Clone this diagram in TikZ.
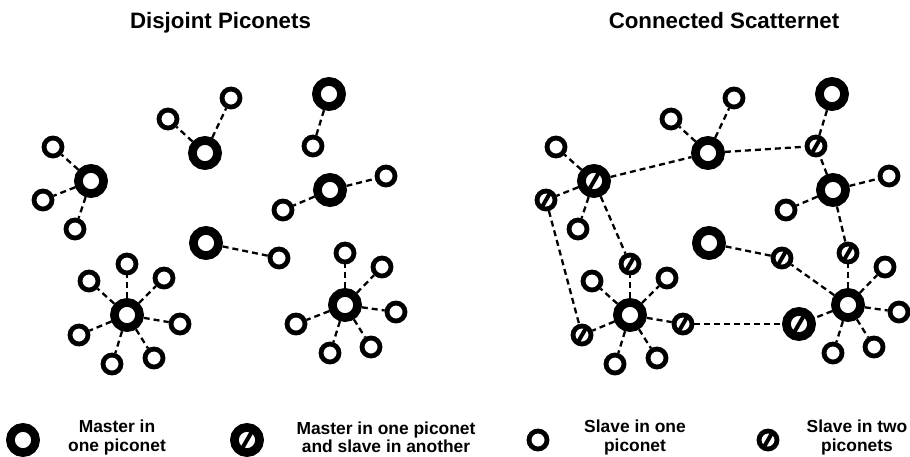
\documentclass[tikz,border=0pt]{standalone}
\usepackage{fontspec}
\setmainfont{Liberation Sans}
\usepackage{tikz}
\usetikzlibrary{calc}

\tikzset{
	master/.style={circle,draw,line width=8.7pt,inner sep=0pt,minimum size=25.2pt},
	slave/.style={circle,draw,line width=4.8pt,inner sep=0pt,minimum size=18pt},
	cross/.style={path picture={\draw[line width=4pt] (path picture bounding box.center) ++(120:14) -- ++(-60:28);}},
	link/.style={line width=2.3pt,dash pattern=on 6pt off 4pt},
	title/.style={font=\fontsize{22.3}{26}\selectfont\bfseries,inner sep=0pt,anchor=base},
	legtext/.style={font=\fontsize{17.4}{18.5}\selectfont\bfseries,align=center,inner sep=0pt}
}

\begin{document}
\begin{tikzpicture}[x=1pt,y=-1pt]
	\useasboundingbox (0,0) rectangle (910,456);
	\node[title] (tl) at (220.5,28.3) {Disjoint Piconets};
	\node[title] (tr) at (724,28.3) {Connected Scatternet};
	% disjoint piconets
	\node[master] (ma) at (91,181) {};
	\node[slave] (a1) at (53,147) {};
	\node[slave] (a2) at (43,200) {};
	\node[slave] (a3) at (75,229) {};
	\node[master] (mb) at (205,153) {};
	\node[slave] (b1) at (168,119) {};
	\node[slave] (b2) at (231,98) {};
	\node[master] (mc) at (329,94) {};
	\node[slave] (c1) at (313,146) {};
	\node[master] (md) at (330,190) {};
	\node[slave] (d1) at (386,176) {};
	\node[slave] (d2) at (283,210) {};
	\node[master] (me) at (206,243) {};
	\node[slave] (e1) at (279,258) {};
	\node[master] (mf) at (127,315) {};
	\node[slave] (f1) at (127,264) {};
	\node[slave] (f2) at (89,281) {};
	\node[slave] (f3) at (164,278) {};
	\node[slave] (f4) at (180,324) {};
	\node[slave] (f5) at (79,335) {};
	\node[slave] (f6) at (112,364) {};
	\node[slave] (f7) at (154,358) {};
	\node[master] (mg) at (345,305) {};
	\node[slave] (g1) at (345,253) {};
	\node[slave] (g2) at (382,267) {};
	\node[slave] (g3) at (396,312) {};
	\node[slave] (g4) at (296,324) {};
	\node[slave] (g5) at (330,353) {};
	\node[slave] (g6) at (371,347) {};
	\foreach \s in {a1,a2,a3} \draw[link] (ma) -- (\s);
	\foreach \s in {b1,b2} \draw[link] (mb) -- (\s);
	\draw[link] (mc) -- (c1);
	\foreach \s in {d1,d2} \draw[link] (md) -- (\s);
	\draw[link] (me) -- (e1);
	\foreach \s in {f1,f2,f3,f4,f5,f6,f7} \draw[link] (mf) -- (\s);
	\foreach \s in {g1,g2,g3,g4,g5,g6} \draw[link] (mg) -- (\s);
	% connected scatternet
	\begin{scope}[xshift=503pt]
	\node[master,cross] (rma) at (91,181) {};
	\node[slave] (ra1) at (53,147) {};
	\node[slave,cross] (ra2) at (43,200) {};
	\node[slave] (ra3) at (75,229) {};
	\node[master] (rmb) at (205,153) {};
	\node[slave] (rb1) at (168,119) {};
	\node[slave] (rb2) at (231,98) {};
	\node[master] (rmc) at (329,94) {};
	\node[slave,cross] (rc1) at (313,146) {};
	\node[master] (rmd) at (330,190) {};
	\node[slave] (rd1) at (386,176) {};
	\node[slave] (rd2) at (283,210) {};
	\node[master] (rme) at (206,243) {};
	\node[slave,cross] (re1) at (279,258) {};
	\node[master] (rmf) at (127,315) {};
	\node[slave,cross] (rf1) at (127,264) {};
	\node[slave] (rf2) at (89,281) {};
	\node[slave] (rf3) at (164,278) {};
	\node[slave,cross] (rf4) at (180,324) {};
	\node[slave,cross] (rf5) at (79,335) {};
	\node[slave] (rf6) at (112,364) {};
	\node[slave] (rf7) at (154,358) {};
	\node[master] (rmg) at (345,305) {};
	\node[slave,cross] (rg1) at (345,253) {};
	\node[slave] (rg2) at (382,267) {};
	\node[slave] (rg3) at (396,312) {};
	\node[master,cross] (rg4) at (296,324) {};
	\node[slave] (rg5) at (330,353) {};
	\node[slave] (rg6) at (371,347) {};
	\end{scope}
	\foreach \s in {ra1,ra2,ra3,rmb,rf1} \draw[link] (rma) -- (\s);
	\foreach \s in {rb1,rb2,rc1} \draw[link] (rmb) -- (\s);
	\draw[link] (rmc) -- (rc1);
	\foreach \s in {rc1,rd1,rd2,rg1} \draw[link] (rmd) -- (\s);
	\draw[link] (rme) -- (re1);
	\foreach \s in {rf1,rf2,rf3,rf4,rf5,rf6,rf7} \draw[link] (rmf) -- (\s);
	\foreach \s in {rg1,rg2,rg3,rg4,rg5,rg6,re1} \draw[link] (rmg) -- (\s);
	\draw[link] (ra2) -- (rf5);
	\draw[link] (rf4) -- (rg4);
	% legend
	\node[master] (lm) at (23,440) {};
	\node[legtext] (lmt) at (117,437.5) {Master in\\one piconet};
	\node[master,cross] (lms) at (247,440) {};
	\node[legtext] (lmst) at (386,437.5) {Master in one piconet\\and slave in another};
	\node[slave] (ls) at (538,440) {};
	\node[legtext] (lst) at (635,437.5) {Slave in one\\piconet};
	\node[slave,cross] (lb) at (768,440) {};
	\node[legtext] (lbt) at (857,437.5) {Slave in two\\piconets};
\end{tikzpicture}
\end{document}
